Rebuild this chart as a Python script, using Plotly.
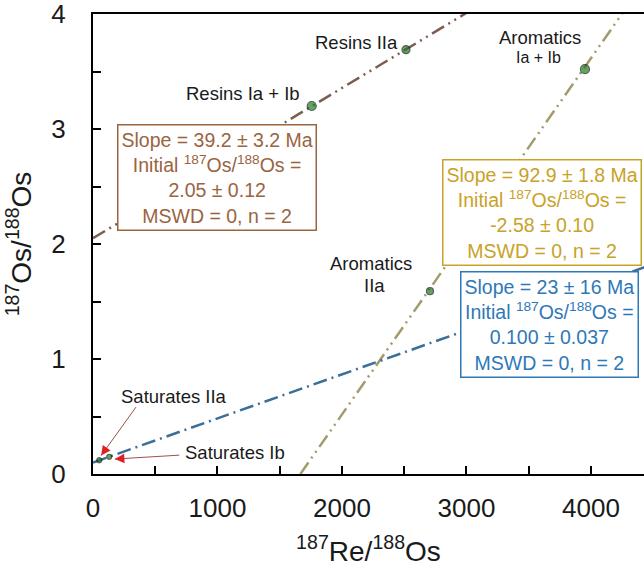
import numpy as np
import plotly.graph_objects as go

# ---------------- data ----------------
LAMBDA_RE = 1.666e-11  # 187Re decay constant (1/yr)

# isochrons: name, age (Ma), initial 187Os/188Os, x extent
iso_names = ["Resins", "Aromatics", "Saturates"]
iso_age_ma = [39.2, 92.9, 23.0]
iso_initial = [2.05, -2.58, 0.100]
iso_xmin = [0, 1666, 0]
iso_xmax = [4430, 4430, 4430]

# sample points (187Re/188Os, 187Os/188Os)
pt_labels = ["Resins Ia + Ib", "Resins IIa", "Aromatics Ia + Ib", "Aromatics IIa",
             "Saturates IIa", "Saturates Ib"]
pt_x = [1757, 2514, 3952, 2707, 50, 130]
pt_y = [3.20, 3.69, 3.52, 1.59, 0.12, 0.15]

x_ticks = [0, 1000, 2000, 3000, 4000]
y_ticks = [0, 1, 2, 3, 4]

# ---------------- styles ----------------
FONT = "Arial, Liberation Sans, sans-serif"
line_colors = ["#7b5e4f", "#a39b6b", "#3a6f98"]
line_dash = ["14px,5px,2px,5px,2px,5px", "14px,5px,2px,5px,2px,5px", "14px,5px,2px,5px"]
box_colors = ["#9a643f", "#c9a227", "#2e78b8"]

fig = go.Figure()

for i in range(3):
    slope = np.exp(LAMBDA_RE * iso_age_ma[i] * 1e6) - 1
    xs = np.array([iso_xmin[i], iso_xmax[i]], dtype=float)
    ys = iso_initial[i] + slope * xs
    fig.add_trace(go.Scatter(x=xs, y=ys, mode="lines",
                             line=dict(color=line_colors[i], width=2.5, dash=line_dash[i]),
                             hoverinfo="skip", showlegend=False))

sizes = [9, 8, 9, 7, 5, 5]
fig.add_trace(go.Scatter(x=pt_x, y=pt_y, mode="markers",
                         marker=dict(symbol="circle", size=sizes, color="#237a23",
                                     line=dict(color="#102010", width=1.2)),
                         hoverinfo="skip", showlegend=False))

ann = []
# point labels
def lab(text, x, y, size=18.5):
    ann.append(dict(text=text, x=x, y=y, xref="x", yref="y", showarrow=False,
                    xanchor="center", yanchor="middle",
                    font=dict(family=FONT, size=size, color="#1a1a1a")))

lab("Resins Ia + Ib", 1205, 3.31)
lab("Resins IIa", 2120, 3.75)
lab("Aromatics", 3590, 3.80)
lab("Ia + Ib", 3575, 3.62, 16)
lab("Aromatics", 2232, 1.83)
lab("IIa", 2265, 1.64)
lab("Saturates IIa", 650, 0.67)
lab("Saturates Ib", 1140, 0.19)

# arrows to saturates (line + red head)
def arrow(x, y, ax, ay):
    ann.append(dict(text="", x=x, y=y, xref="x", yref="y", ax=ax, ay=ay,
                    showarrow=True, arrowhead=0, arrowwidth=1, arrowcolor="#a0504a"))
    ann.append(dict(text="", x=x, y=y, xref="x", yref="y", ax=ax * 0.12, ay=ay * 0.12,
                    showarrow=True, arrowhead=2, arrowsize=1.6, arrowwidth=1.2,
                    arrowcolor="#e02020"))

arrow(65, 0.16, 36, -50)
arrow(175, 0.13, 66, -4)

# result boxes
box_text = [
    "Slope = 39.2 ± 3.2 Ma<br>Initial <sup>187</sup>Os/<sup>188</sup>Os =<br>2.05 ± 0.12<br>MSWD = 0, n = 2",
    "Slope = 92.9 ± 1.8 Ma<br>Initial <sup>187</sup>Os/<sup>188</sup>Os =<br>-2.58 ± 0.10<br>MSWD = 0, n = 2",
    "Slope = 23 ± 16 Ma<br>Initial <sup>187</sup>Os/<sup>188</sup>Os =<br>0.100 ± 0.037<br>MSWD = 0, n = 2",
]
box_pos = [(992, 2.574), (3610, 2.278), (3663, 1.300)]
for t, (bx, by), c in zip(box_text, box_pos, box_colors):
    ann.append(dict(text=t, x=bx, y=by, xref="x", yref="y", showarrow=False,
                    xanchor="center", yanchor="middle", align="center",
                    font=dict(family=FONT, size=19.5, color=c),
                    bgcolor="white", bordercolor=c, borderwidth=1.5, borderpad=3))

axis_common = dict(showgrid=False, zeroline=False, showline=True, linecolor="black",
                   linewidth=2, ticks="inside", ticklen=8, tickwidth=1.5, tickcolor="black",
                   ticklabeloverflow="allow",
                   tickfont=dict(family=FONT, size=26, color="#1a1a1a"))

fig.update_layout(
    width=644, height=567,
    margin=dict(l=93, r=0, t=14, b=93),
    paper_bgcolor="white", plot_bgcolor="white",
    annotations=ann,
    xaxis=dict(range=[0, 4426], tickvals=x_ticks, ticktext=[str(v) for v in x_ticks],
               minor=dict(dtick=500, ticks="inside", ticklen=8, tickwidth=1.5, tickcolor="black"),
               mirror=True, ticklabelstandoff=10,
               title=dict(text="<sup>187</sup>Re/<sup>188</sup>Os", standoff=22,
                          font=dict(family=FONT, size=28, color="#1a1a1a")),
               **axis_common),
    yaxis=dict(range=[0, 4], tickvals=y_ticks, ticktext=[str(v) for v in y_ticks],
               minor=dict(dtick=0.5, ticks="inside", ticklen=8, tickwidth=1.5, tickcolor="black"),
               mirror=False, ticklabelstandoff=20,
               title=dict(text="<sup>187</sup>Os/<sup>188</sup>Os", standoff=12,
                          font=dict(family=FONT, size=28, color="#1a1a1a")),
               **axis_common),
)

fig.write_html("out.html")
